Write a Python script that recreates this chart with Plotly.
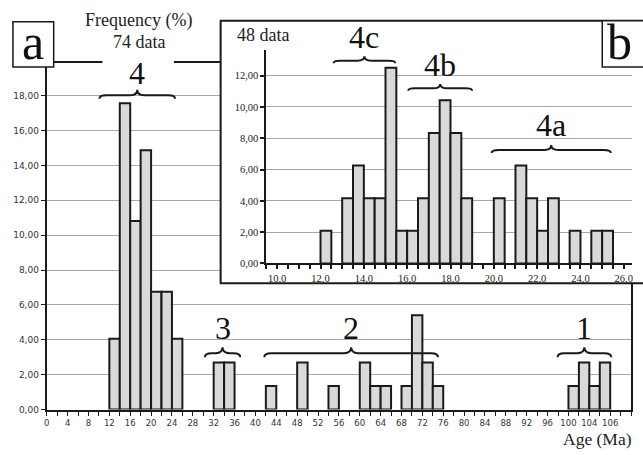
import plotly.graph_objects as go

W, H = 643, 455

# ---- main histogram: 2 Ma bins (left edges) and number of ages per bin ----
main_bin_start = [12, 14, 16, 18, 20, 22, 24, 32, 34, 42, 48, 54, 60, 62, 64,
                  68, 70, 72, 74, 100, 102, 104, 106]
main_counts = [3, 13, 8, 11, 5, 5, 3, 2, 2, 1, 2, 1, 2, 1, 1,
               1, 4, 2, 1, 1, 2, 1, 2]
main_total = 74
main_bin_width = 2.0

main_xtick_vals = [0, 4, 8, 12, 16, 20, 24, 28, 32, 36, 40, 44, 48, 52, 56, 60,
                   64, 68, 72, 76, 80, 84, 88, 92, 96, 100, 104, 108]
main_xtick_text = ["0", "4", "8", "12", "16", "20", "24", "28", "32", "36", "40",
                   "44", "48", "52", "56", "60", "64", "68", "72", "76", "80",
                   "84", "88", "92", "96", "100", "104", "106"]

# groups marked with braces on the main histogram (label, from, to in Ma)
main_groups = [("4", 10.1, 24.6), ("3", 30.3, 37.1), ("2", 41.7, 75.0), ("1", 97.9, 108.2)]

# ---- detail histogram: 0.5 Ma bins between 10 and 26 Ma ----
inset_bin_start = [12.0, 13.0, 13.5, 14.0, 14.5, 15.0, 15.5, 16.0, 16.5, 17.0,
                   17.5, 18.0, 18.5, 20.0, 21.0, 21.5, 22.0, 22.5, 23.5, 24.5, 25.0]
inset_counts = [1, 2, 3, 2, 2, 6, 1, 1, 2, 4,
                5, 4, 2, 2, 3, 2, 1, 2, 1, 1, 1]
inset_total = 48
inset_bin_width = 0.5

inset_groups = [("4c", 12.6, 15.45), ("4b", 16.05, 19.0), ("4a", 19.9, 25.4)]

# ---------------------------------------------------------------------------
SERIF = "Liberation Serif"
SANS = "DejaVu Sans"
BAR_FILL = "#d8d9da"
INK = "#1a1a1a"
GRID = "#a8a8a8"


def fx(px):
    return px / W


def fy(py):
    return 1 - py / H


# subplot geometry (pixels)
MAIN_X = (44, 632)
MAIN_Y = (415, 64)        # bottom, top
MAIN_XR = [0, 112]
MAIN_YR = [0, (MAIN_Y[0] - MAIN_Y[1]) / 17.67]

BOX = (219, 21, 660, 287)  # detail panel frame: left, top, right, bottom
INS_X = (265, 633)
INS_Y = (267, 51)
INS_XR = [9.5, 9.5 + (INS_X[1] - INS_X[0]) / 21.8]
INS_YR = [0, (INS_Y[0] - INS_Y[1]) / 15.87]


def data_to_px(v, pix, rng):
    return pix[0] + (v - rng[0]) / (rng[1] - rng[0]) * (pix[1] - pix[0])


main_x = [s + main_bin_width / 2 for s in main_bin_start]
main_y = [100.0 * c / main_total for c in main_counts]
inset_x = [s + inset_bin_width / 2 for s in inset_bin_start]
inset_y = [100.0 * c / inset_total for c in inset_counts]

fig = go.Figure()

fig.add_trace(go.Bar(
    x=main_x, y=main_y, width=main_bin_width,
    marker=dict(color=BAR_FILL, line=dict(color=INK, width=2)),
    xaxis="x", yaxis="y", hoverinfo="skip", showlegend=False))

# white panel behind the detail histogram
fig.add_trace(go.Scatter(x=[None], y=[None], xaxis="x2", yaxis="y2",
                         hoverinfo="skip", showlegend=False))

fig.add_trace(go.Bar(
    x=inset_x, y=inset_y, width=inset_bin_width,
    marker=dict(color=BAR_FILL, line=dict(color=INK, width=2)),
    xaxis="x3", yaxis="y3", hoverinfo="skip", showlegend=False))

sans_tick = dict(family=SANS, size=9, color="#333333")
sans_tick_x = dict(family=SANS, size=8.5, color="#333333")
serif_tick = dict(family=SERIF, size=10.5, color="#222222")

fig.update_layout(
    width=W, height=H,
    margin=dict(l=0, r=0, t=0, b=0),
    paper_bgcolor="white", plot_bgcolor="white",
    separators=", ",
    hovermode=False,
    showlegend=False,
    xaxis=dict(
        domain=[fx(MAIN_X[0]), fx(MAIN_X[1])], range=MAIN_XR, anchor="y",
        tickmode="array", tickvals=main_xtick_vals, ticktext=main_xtick_text,
        ticks="outside", ticklen=4, tickwidth=1, tickcolor=INK,
        minor=dict(dtick=2, tick0=0, ticks="outside", ticklen=4, tickcolor=INK, showgrid=False),
        showgrid=False, zeroline=False,
        showline=True, linecolor=INK, linewidth=2, mirror=True,
        tickfont=sans_tick_x, fixedrange=True),
    yaxis=dict(
        domain=[fy(MAIN_Y[0]), fy(MAIN_Y[1])], range=MAIN_YR, anchor="x",
        dtick=2, tick0=0, tickformat=".2f",
        ticks="outside", ticklen=4, tickwidth=1, tickcolor=INK,
        showgrid=True, gridcolor=GRID, gridwidth=1, zeroline=False,
        showline=True, linecolor=INK, linewidth=2, mirror=True,
        tickfont=sans_tick, fixedrange=True),
    xaxis2=dict(domain=[fx(BOX[0]), 1.0], range=[0, 1], anchor="y2", visible=False),
    yaxis2=dict(domain=[fy(BOX[3]), fy(BOX[1])], range=[0, 1], anchor="x2", visible=False),
    xaxis3=dict(
        domain=[fx(INS_X[0]), fx(INS_X[1])], range=INS_XR, anchor="y3",
        tickmode="linear", tick0=10, dtick=2, tickformat=".1f",
        ticks="outside", ticklen=4, tickwidth=1.5, tickcolor=INK,
        minor=dict(dtick=0.5, tick0=10, ticks="outside", ticklen=4, tickwidth=1.5,
                   tickcolor=INK, showgrid=False),
        showgrid=False, zeroline=False,
        showline=True, linecolor=INK, linewidth=2,
        tickfont=serif_tick, fixedrange=True),
    yaxis3=dict(
        domain=[fy(INS_Y[0]), fy(INS_Y[1])], range=INS_YR, anchor="x3",
        dtick=2, tick0=0, tickformat=".2f",
        ticks="outside", ticklen=4, tickwidth=1.5, tickcolor=INK,
        showgrid=True, gridcolor=GRID, gridwidth=1, zeroline=False,
        showline=True, linecolor=INK, linewidth=2,
        tickfont=serif_tick, fixedrange=True),
)


def brace_path(x0, x1, yb, yt, r=7):
    """Curly brace (tip up) in pixel space, returned in paper coordinates."""
    xm = (x0 + x1) / 2
    ym = (yb + yt) / 2 + 1
    pts = [
        ("M", [(x0, yb)]),
        ("Q", [(x0, ym), (x0 + r, ym)]),
        ("L", [(xm - r, ym)]),
        ("Q", [(xm, ym), (xm, yt)]),
        ("Q", [(xm, ym), (xm + r, ym)]),
        ("L", [(x1 - r, ym)]),
        ("Q", [(x1, ym), (x1, yb)]),
    ]
    out = []
    for cmd, ps in pts:
        out.append(cmd + " " + " ".join(f"{fx(a):.5f},{fy(b):.5f}" for a, b in ps))
    return " ".join(out)


shapes = []
annotations = []

# frame of the detail panel
shapes.append(dict(type="rect", xref="paper", yref="paper",
                   x0=fx(BOX[0]), x1=fx(BOX[2]), y0=fy(BOX[3]), y1=fy(BOX[1]),
                   line=dict(color=INK, width=2), fillcolor="rgba(0,0,0,0)", layer="above"))

# gap in the top frame line around the group "4" label
shapes.append(dict(type="rect", xref="paper", yref="paper",
                   x0=fx(100), x1=fx(172), y0=fy(70), y1=fy(57),
                   line=dict(width=0), fillcolor="white", layer="above"))

# panel letters
for letter, (l, t, r, b), cx in [("a", (10, 22, 51, 68), 30.5), ("b", (603, 21, 660, 68), 620)]:
    shapes.append(dict(type="rect", xref="paper", yref="paper",
                       x0=fx(l), x1=fx(r), y0=fy(b), y1=fy(t),
                       line=dict(color=INK, width=1.5), fillcolor="white", layer="above"))
    annotations.append(dict(text=letter, xref="paper", yref="paper",
                            x=fx(cx), y=fy((t + b) / 2 - 2), xanchor="center", yanchor="middle",
                            showarrow=False, font=dict(family=SERIF, size=50, color="#111111")))

# group braces, main histogram
main_brace_rows = {"4": (100, 91, 74), "3": (362, 352, 332), "2": (362, 352, 332), "1": (362, 352, 332)}
for label, g0, g1 in main_groups:
    yb, yt, ylab = main_brace_rows[label]
    x0 = data_to_px(g0, MAIN_X, MAIN_XR)
    x1 = data_to_px(g1, MAIN_X, MAIN_XR)
    shapes.append(dict(type="path", xref="paper", yref="paper", path=brace_path(x0, x1, yb, yt),
                       line=dict(color=INK, width=2), layer="above"))
    annotations.append(dict(text=label, xref="paper", yref="paper",
                            x=fx((x0 + x1) / 2), y=fy(ylab), xanchor="center", yanchor="middle",
                            showarrow=False, font=dict(family=SERIF, size=32, color="#111111")))

# group braces, detail histogram
inset_brace_rows = {"4c": (64, 57, 37), "4b": (92, 85, 66), "4a": (155, 147, 127)}
for label, g0, g1 in inset_groups:
    yb, yt, ylab = inset_brace_rows[label]
    x0 = data_to_px(g0, INS_X, INS_XR)
    x1 = data_to_px(g1, INS_X, INS_XR)
    shapes.append(dict(type="path", xref="paper", yref="paper", path=brace_path(x0, x1, yb, yt),
                       line=dict(color=INK, width=2), layer="above"))
    annotations.append(dict(text=label, xref="paper", yref="paper",
                            x=fx((x0 + x1) / 2), y=fy(ylab), xanchor="center", yanchor="middle",
                            showarrow=False, font=dict(family=SERIF, size=32, color="#111111")))

# titles and counts
text_font = dict(family=SERIF, size=18, color="#222222")
annotations += [
    dict(text="Frequency (%)", xref="paper", yref="paper", x=fx(136), y=fy(21),
         xanchor="center", yanchor="middle", showarrow=False, font=text_font),
    dict(text=f"{main_total} data", xref="paper", yref="paper", x=fx(137), y=fy(43),
         xanchor="center", yanchor="middle", showarrow=False, font=text_font),
    dict(text=f"{inset_total} data", xref="paper", yref="paper", x=fx(233), y=fy(35),
         xanchor="left", yanchor="middle", showarrow=False, font=text_font),
    dict(text="Age (Ma)", xref="paper", yref="paper", x=fx(634), y=fy(434),
         xanchor="right", yanchor="top", borderpad=0, showarrow=False,
         font=dict(family=SERIF, size=17.5, color="#222222")),
]

fig.update_layout(shapes=shapes, annotations=annotations)

fig.write_html("out.html")
